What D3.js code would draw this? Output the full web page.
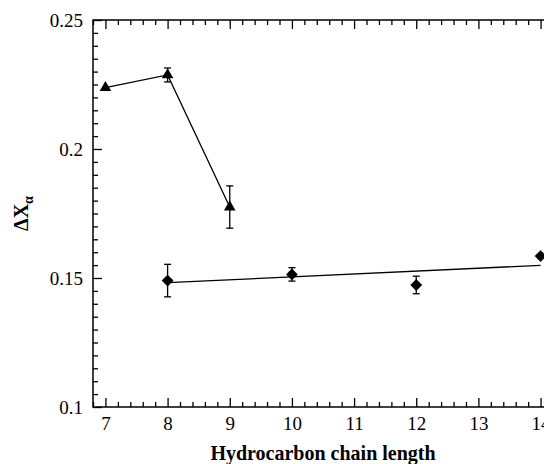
<!DOCTYPE html>
<html>
<head>
<meta charset="utf-8">
<style>
    body { margin: 0; background: #fff; }
    .tick line { stroke: #000; stroke-width: 1.3; }
    .domain { display: none; }
</style>
</head>
<body>
<svg width="544" height="464"></svg>
<script src="https://d3js.org/d3.v7.min.js"></script>
<script>
    // triangles: C7..C9
    let triX = [7, 8, 9];
    let triY = [0.2238, 0.2287, 0.1775];
    let triErr = [0, 0.0027, 0.0082];

    // diamonds: C8..C14
    let diaX = [8, 10, 12, 14];
    let diaY = [0.149, 0.1514, 0.1473, 0.1585];
    let diaErr = [0.0063, 0.0026, 0.0034, 0];

    // linear fit through the diamonds
    let fitX = [8, 14];
    let fitY = [0.1482, 0.1549];

    let xTicks = [7, 8, 9, 10, 11, 12, 13, 14];
    let yTicks = [0.1, 0.15, 0.2, 0.25];
    let yLabels = ["0.1", "0.15", "0.2", "0.25"];

    const FONT = "Liberation Serif";

    let svg = d3.select("svg");
    let margin = { top: 20, right: -9, bottom: 57, left: 93 };
    let width = 544, height = 464;

    let x = d3.scaleLinear().domain([6.8, 14.2]).range([margin.left, width - margin.right]);
    let y = d3.scaleLinear().domain([0.1, 0.25]).range([height - margin.bottom, margin.top]);

    let xMinor = d3.range(68, 143, 2).map(d => d / 10).filter(d => !xTicks.includes(d));
    let yMinor = d3.range(100, 251, 5).map(d => d / 1000).filter(d => !yTicks.some(t => Math.abs(t - d) < 1e-6));

    // frame
    svg.append("rect")
        .attr("x", x(6.8)).attr("y", y(0.25))
        .attr("width", x(14.2) - x(6.8)).attr("height", y(0.1) - y(0.25))
        .attr("fill", "none").attr("stroke", "#000").attr("stroke-width", 1.5);

    function addAxis(axis, tr, vals, size, labels) {
        let a = axis.tickValues(vals).tickSizeInner(-size).tickSizeOuter(0);
        if (labels) a.tickFormat((d, i) => labels[i]).tickPadding(10);
        else a.tickFormat("");
        svg.append("g").attr("transform", tr).call(a)
            .call(g => g.selectAll("text")
                .style("font-family", FONT)
                .style("font-size", "19px")
                .attr("fill", "#000"));
    }

    addAxis(d3.axisBottom(x), `translate(0,${y(0.1)})`, xTicks, 9, xTicks.map(String));
    addAxis(d3.axisBottom(x), `translate(0,${y(0.1)})`, xMinor, 5, null);
    addAxis(d3.axisTop(x), `translate(0,${y(0.25)})`, xTicks, 9, null);
    addAxis(d3.axisTop(x), `translate(0,${y(0.25)})`, xMinor, 5, null);
    addAxis(d3.axisLeft(y), `translate(${x(6.8)},0)`, yTicks, 9, yLabels);
    addAxis(d3.axisLeft(y), `translate(${x(6.8)},0)`, yMinor, 5, null);
    addAxis(d3.axisRight(y), `translate(${x(14.2)},0)`, yTicks, 9, null);
    addAxis(d3.axisRight(y), `translate(${x(14.2)},0)`, yMinor, 5, null);

    let line = d3.line().x(d => x(d[0])).y(d => y(d[1]));

    svg.append("path")
        .attr("d", line(triX.map((d, i) => [d, triY[i]])))
        .attr("fill", "none").attr("stroke", "#000").attr("stroke-width", 1.3);

    svg.append("path")
        .attr("d", line(fitX.map((d, i) => [d, fitY[i]])))
        .attr("fill", "none").attr("stroke", "#000").attr("stroke-width", 1.3);

    function errorBars(xs, ys, es) {
        let g = svg.append("g").attr("stroke", "#000").attr("stroke-width", 1.3);
        xs.forEach((d, i) => {
            if (!es[i]) return;
            let cx = x(d), y0 = y(ys[i] - es[i]), y1 = y(ys[i] + es[i]);
            g.append("line").attr("x1", cx).attr("x2", cx).attr("y1", y0).attr("y2", y1);
            g.append("line").attr("x1", cx - 3.5).attr("x2", cx + 3.5).attr("y1", y0).attr("y2", y0);
            g.append("line").attr("x1", cx - 3.5).attr("x2", cx + 3.5).attr("y1", y1).attr("y2", y1);
        });
    }
    errorBars(triX, triY, triErr);
    errorBars(diaX, diaY, diaErr);

    svg.append("g").selectAll("path")
        .data(triX)
        .join("path")
        .attr("transform", (d, i) => `translate(${x(d)},${y(triY[i])})`)
        .attr("d", d3.symbol(d3.symbolTriangle, 58))
        .attr("fill", "#000");

    svg.append("g").selectAll("path")
        .data(diaX)
        .join("path")
        .attr("transform", (d, i) => `translate(${x(d)},${y(diaY[i])}) rotate(45)`)
        .attr("d", d3.symbol(d3.symbolSquare, 70))
        .attr("fill", "#000");

    // axis titles
    svg.append("text")
        .attr("x", (x(6.8) + x(14.2)) / 2)
        .attr("y", 460)
        .attr("text-anchor", "middle")
        .style("font-family", FONT)
        .style("font-size", "20px")
        .style("font-weight", "bold")
        .text("Hydrocarbon chain length");

    let yt = svg.append("text")
        .attr("transform", `translate(28,${(y(0.1) + y(0.25)) / 2}) rotate(-90)`)
        .attr("text-anchor", "middle")
        .style("font-family", FONT)
        .style("font-size", "20px")
        .style("font-weight", "bold");
    yt.append("tspan").text("\u0394X");
    yt.append("tspan").attr("dy", 5).style("font-size", "14px").text("\u03b1");
</script>
</body>
</html>
